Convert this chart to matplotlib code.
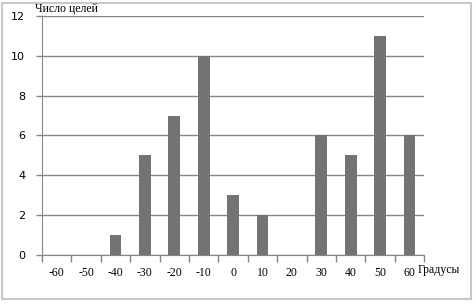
import matplotlib.pyplot as plt
import numpy as np

degrees = ["-60", "-50", "-40", "-30", "-20", "-10", "0", "10", "20", "30", "40", "50", "60"]
targets = [0, 0, 1, 5, 7, 10, 3, 2, 0, 6, 5, 11, 6]
y_ticks = [0, 2, 4, 6, 8, 10, 12]

GREY = "#868686"

fig = plt.figure(figsize=(4.76, 3.05), dpi=100)
ax = fig.add_axes([0.0882, 0.164, 0.803, 0.7835])

x = np.arange(len(degrees))
ax.bar(x, targets, width=0.4, color="#737373", zorder=3)

ax.set_xlim(-0.5, len(degrees) - 0.5)
ax.set_ylim(0, 12)
ax.set_yticks(y_ticks)
ax.yaxis.grid(True, color=GREY, linewidth=1)
ax.set_axisbelow(True)

ax.set_xticks(x)
ax.set_xticklabels(degrees, family="Liberation Serif", fontsize=8.5)
ax.set_xticks(np.arange(-0.5, len(degrees)), minor=True)
ax.tick_params(axis="x", which="major", length=0, pad=9)
ax.tick_params(axis="x", which="minor", length=5, color=GREY, width=1)
ax.tick_params(axis="y", length=4, color=GREY, width=1, labelsize=8, pad=8)

for s in ["top", "right"]:
    ax.spines[s].set_visible(False)
for s in ["left", "bottom"]:
    ax.spines[s].set_color(GREY)

fig.text(0.074, 0.972, "Число целей", family="Liberation Serif", fontsize=8.5, va="center")
fig.text(0.878, 0.115, "Градусы", family="Liberation Serif", fontsize=8.5, va="center")

fig.patches.append(plt.Rectangle((0.005, 0.02), 0.985, 0.97, transform=fig.transFigure,
                                 fill=False, edgecolor="#c8c8c8", linewidth=1.5))

fig.savefig("out.png", dpi=100)
